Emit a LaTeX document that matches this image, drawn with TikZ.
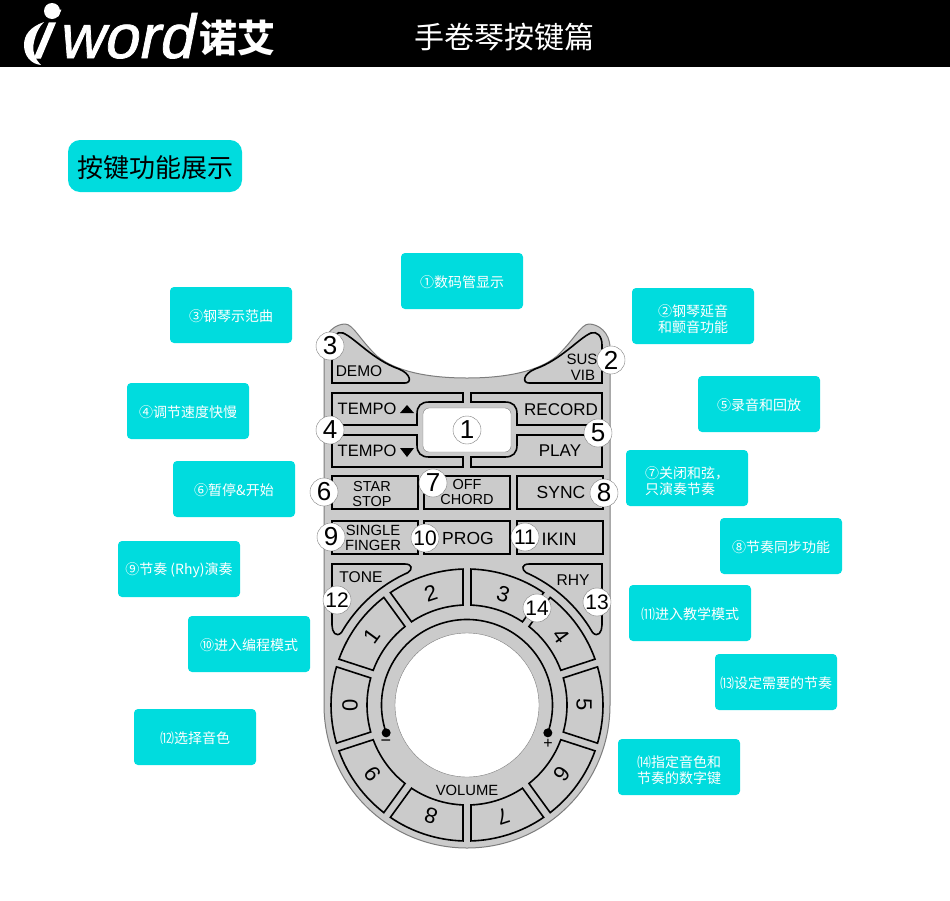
\documentclass[tikz,border=0pt]{standalone}
\usepackage{fontspec}
\setmainfont{Liberation Sans}
\newfontfamily\cjk{Noto Sans CJK SC}
\newfontfamily\logoword[FakeBold=1.2,FakeSlant=.2]{Liberation Sans}
\newfontfamily\logoletter[FakeBold=2,FakeSlant=.42]{Liberation Sans}
\usetikzlibrary{positioning}
\definecolor{labelcyan}{RGB}{0,220,222}
\definecolor{panelgray}{RGB}{203,203,203}
\definecolor{rimgray}{RGB}{125,125,125}
\tikzset{
  labelbox/.style={fill=labelcyan, rounded corners=4pt, minimum width=122pt,
                   minimum height=56pt, inner sep=0pt, text=white, align=left,
                   text height=15pt, font=\cjk\fontsize{14}{16}\selectfont},
  labeltwo/.style={labelbox, text height=34pt},
  numcircle/.style={circle, draw=rimgray, fill=white, minimum size=28pt,
                    inner sep=0pt, font=\fontsize{26}{26}\selectfont},
  numsmall/.style={numcircle, font=\fontsize{21}{21}\selectfont},
  keyface/.style={draw=black, line width=1.6pt, fill=panelgray},
  keytext/.style={inner sep=0pt, align=center, font=\fontsize{#1}{15}\selectfont}
}
\begin{document}
\begin{tikzpicture}[x=1pt, y=-1pt]
  \useasboundingbox (0,0) rectangle (950,900);
  \fill[black] (0,0) rectangle (950,67);
  \node[inner sep=0pt, anchor=base west, text=white, font=\logoword\fontsize{62}{62}\selectfont] (logoword) at (30,58)
    {\makebox[28pt][l]{\logoletter\fontsize{66}{66}\selectfont i}word};
  \fill[white] (52,11) circle[radius=8];
  \fill[white] (44,22) .. controls (30,27) and (24,35) .. (24,45) .. controls (24,56) and (31,64) .. (41,65)
    .. controls (34,58) and (32,50) .. (34,42) .. controls (36,33) and (39,27) .. (44,22);
  \node[inner sep=0pt, text=white, font=\cjk\bfseries\fontsize{38}{38}\selectfont] (logocn) at (237,38) {诺艾};
  \node[inner sep=0pt, text=white, font=\cjk\fontsize{30}{30}\selectfont] (title) at (504,37) {手卷琴按键篇};
  \node[fill=labelcyan, rounded corners=12pt, minimum width=174pt, minimum height=52pt, inner sep=0pt,
        text height=26pt, font=\cjk\fontsize{26}{26}\selectfont] (heading) at (155,166) {按键功能展示};

  \begin{scope}[shift={(467,705)}, y=1pt]
    \draw[rimgray, line width=1pt, fill=panelgray] (-143,0) -- (-143,357) .. controls (-143,373) and (-131,381) .. (-122,381)
      .. controls (-114,381) and (-107,365) .. (-90,349) .. controls (-72,334) and (-40,327) .. (0,327)
      .. controls (40,327) and (72,334) .. (90,349) .. controls (107,365) and (114,381) .. (122,381)
      .. controls (131,381) and (143,373) .. (143,357) -- (143,0) arc[start angle=0, end angle=-180, radius=143] -- cycle;
    \foreach \s in {1,-1} {
      \begin{scope}[xscale=\s]
        \draw[keyface] (-135,322) -- (-135,360) .. controls (-135,369) and (-130,374) .. (-124,372)
          .. controls (-112,367) and (-94,345) .. (-68,336) .. controls (-56,331) and (-55,322) .. (-62,322) -- cycle;
        \draw[keyface] (-135,141) -- (-62,141) .. controls (-55,141) and (-54,136) .. (114:145)
          arc[start angle=114, end angle=150, radius=145] .. controls (-131,67) and (-135,73) .. (-135,80) -- cycle;
        \draw[keyface] (-135,312) -- (-4,312) -- (-4,303) -- (-38,303) .. controls (-46,303) and (-50,299) .. (-50,291)
          -- (-50,280) -- (-135,280) -- cycle;
        \draw[keyface] (-135,270) -- (-50,270) -- (-50,260) .. controls (-50,252) and (-46,248) .. (-38,248)
          -- (-4,248) -- (-4,238) -- (-135,238) -- cycle;
      \end{scope}
    }
    \foreach \a/\d in {72/3,36/4,0/5,-36/6,-72/7,-108/8,-144/9,-180/0,144/1,108/2} {
      \draw[keyface] ({\a+16.3}:136) arc[start angle=\a+16.3, end angle=\a-16.3, radius=136]
        -- ({\a-15.7}:100) arc[start angle=\a-15.7, end angle=\a+15.7, radius=100] -- cycle;
      \node[rotate=\a-90, keytext=22] (key\d) at (\a:117) {\d};
    }
    \draw[rimgray, fill=white] (0,0) circle[radius=72];
    \draw[black, line width=1.6pt] (199:85.5) coordinate (volleft) arc[start angle=199, end angle=-19, radius=85.5] coordinate (volright);
    \fill[black] (volleft) circle[radius=4.5];
    \fill[black] (volright) circle[radius=4.5];
  \end{scope}

  \fill[white, draw=rimgray, rounded corners=6pt] (423,408) rectangle (511,452);
  \foreach \x/\y in {332/476,424/476,517/476,332/521,424/521,517/521} {
    \draw[keyface] (\x,\y) rectangle ++(86,33);
  }
  \fill[black] (400,413) -- (414,413) -- (407,405) -- cycle;
  \fill[black] (400,448) -- (414,448) -- (407,457) -- cycle;

  \node[keytext=16.5] (tempoup) at (367,409) {TEMPO};
  \node[keytext=16.5] (tempodown) at (367,451) {TEMPO};
  \node[keytext=17] (record) at (561,410) {RECORD};
  \node[keytext=17] (play) at (560,451) {PLAY};
  \node[keytext=15.5] (demo) at (359,371) {DEMO};
  \node[keytext=15] (susvib) at (582,367) {SUS\\[1pt]\hspace*{2pt}VIB};
  \node[keytext=14.5] (starstop) at (372,494) {STAR\\STOP};
  \node[keytext=14.5] (offchord) at (467,492) {OFF\\CHORD};
  \node[keytext=17.5] (sync) at (561,492) {SYNC};
  \node[keytext=14.8] (singlefinger) at (373,538) {SINGLE\\FINGER};
  \node[keytext=17.5] (prog) at (468,538) {PROG};
  \node[keytext=18] (ikin) at (559,539) {IKIN};
  \node[keytext=15.6] (tone) at (361,577) {TONE};
  \node[keytext=15.6] (rhy) at (573,580) {RHY};
  \node[keytext=14.8] (volume) at (467,790) {VOLUME};
  \node[keytext=18] (minus) at (386,743) {−};
  \node[keytext=16] (plus) at (548,744) {+};

  \node[numcircle] (n1) at (467,430) {1};
  \node[numcircle] (n2) at (611,360) {2};
  \node[numcircle] (n3) at (330,346) {3};
  \node[numcircle] (n4) at (330,430) {4};
  \node[numcircle] (n5) at (598,433) {5};
  \node[numcircle] (n6) at (324,492) {6};
  \node[numcircle] (n7) at (433,483) {7};
  \node[numcircle] (n8) at (604,493) {8};
  \node[numcircle] (n9) at (331,537) {9};
  \node[numsmall] (n10) at (425,538) {10};
  \node[numsmall] (n11) at (525,537) {11};
  \node[numsmall] (n12) at (337,600) {12};
  \node[numsmall] (n13) at (597,602) {13};
  \node[numsmall] (n14) at (537,608) {14};

  \node[labelbox] (display) at (462,281) {①数码管显示};
  \node[labelbox] (demolabel) at (231,315) {③钢琴示范曲};
  \node[labelbox] (tempolabel) at (188,411) {④调节速度快慢};
  \node[labelbox] (startlabel) at (234,489) {⑥暂停\&开始};
  \node[labelbox] (rhylabel) at (179,569) {⑨节奏 (Rhy)演奏};
  \node[labelbox] (proglabel) at (249,644) {⑩进入编程模式};
  \node[labelbox] (tonelabel) at (195,737) {⑿选择音色};
  \node[labeltwo] (suslabel) at (693,316) {②钢琴延音\\和颤音功能};
  \node[labelbox] (recordlabel) at (759,404) {⑤录音和回放};
  \node[labeltwo] (chordlabel) at (687,478) {⑦关闭和弦，\\只演奏节奏};
  \node[labelbox] (synclabel) at (781,546) {⑧节奏同步功能};
  \node[labelbox] (ikinlabel) at (690,613) {⑾进入教学模式};
  \node[labelbox] (rhythmlabel) at (776,682) {⒀设定需要的节奏};
  \node[labeltwo] (digitlabel) at (679,767) {⒁指定音色和\\节奏的数字键};
\end{tikzpicture}
\end{document}
